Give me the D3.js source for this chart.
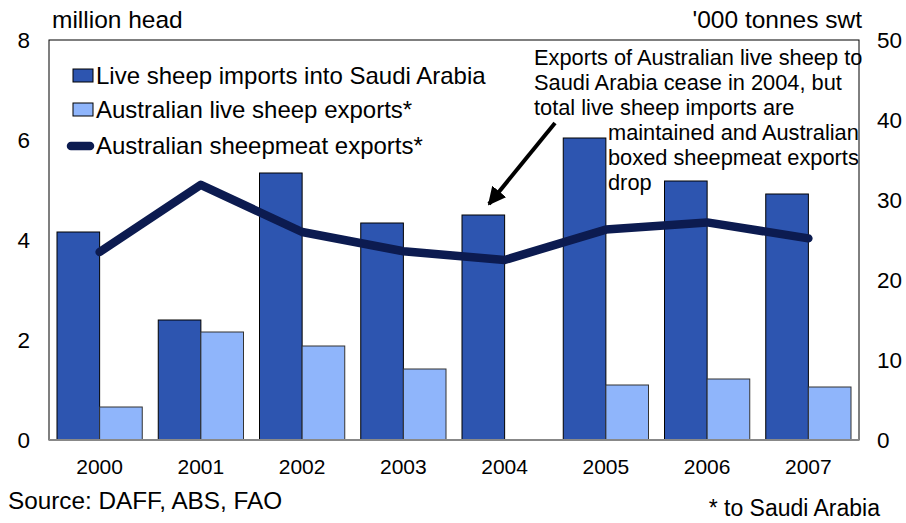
<!DOCTYPE html>
<html>
<head>
<meta charset="utf-8">
<script src="https://cdn.jsdelivr.net/npm/d3@7"></script>
<style>
  html, body { margin: 0; padding: 0; background: #fff; }
  svg { display: block; font-family: "Liberation Sans", Arial, sans-serif; }
</style>
</head>
<body>
<svg id="chart" width="906" height="523"></svg>
<script>
// Saudi Arabian live sheep imports vs Australian exports
const years = ["2000", "2001", "2002", "2003", "2004", "2005", "2006", "2007"];
// million head
const saudiImports = [4.16, 2.40, 5.34, 4.34, 4.50, 6.04, 5.18, 4.92];
const ausLiveExports = [0.66, 2.16, 1.88, 1.42, 0, 1.10, 1.22, 1.06];
// '000 tonnes shipped weight
const ausSheepmeat = [23.5, 31.9, 26.0, 23.6, 22.5, 26.3, 27.2, 25.2];
const leftTicks = [0, 2, 4, 6, 8];
const rightTicks = [0, 10, 20, 30, 40, 50];
const legendLabels = [
  "Live sheep imports into Saudi Arabia",
  "Australian live sheep exports*",
  "Australian sheepmeat exports*"
];
const noteLines = [
  "Exports of Australian live sheep to",
  "Saudi Arabia cease in 2004, but",
  "total live sheep imports are",
  "maintained and Australian",
  "boxed sheepmeat exports",
  "drop"
];

const C = { dark: "#2d55b0", light: "#8fb5fb", line: "#0c1b50" };
const plot = { left: 49, right: 859, top: 40, bottom: 440 };

const svg = d3.select("#chart");

const x = d3.scaleBand().domain(years).range([plot.left, plot.right]);
const inner = d3.scaleBand().domain(["imp", "exp"]).range([8, x.bandwidth() - 8]);
const yL = d3.scaleLinear().domain([0, 8]).range([plot.bottom, plot.top]);
const yR = d3.scaleLinear().domain([0, 50]).range([plot.bottom, plot.top]);

// frame
svg.append("rect")
  .attr("x", plot.left).attr("y", plot.top)
  .attr("width", plot.right - plot.left).attr("height", plot.bottom - plot.top)
  .attr("fill", "none").attr("stroke", "#000").attr("stroke-width", 1);

// bars
const groups = svg.append("g").selectAll("g").data(years).join("g")
  .attr("transform", d => `translate(${x(d)},0)`);
groups.append("rect")
  .attr("x", inner("imp")).attr("width", inner.bandwidth())
  .attr("y", (d, i) => yL(saudiImports[i]))
  .attr("height", (d, i) => yL(0) - yL(saudiImports[i]))
  .attr("fill", C.dark).attr("stroke", "#000").attr("stroke-width", 1);
groups.filter((d, i) => ausLiveExports[i] > 0).append("rect")
  .attr("x", inner("exp")).attr("width", inner.bandwidth())
  .attr("y", d => yL(ausLiveExports[years.indexOf(d)]))
  .attr("height", d => yL(0) - yL(ausLiveExports[years.indexOf(d)]))
  .attr("fill", C.light).attr("stroke", "#333").attr("stroke-width", 1);

// baseline
svg.append("line")
  .attr("x1", plot.left).attr("x2", plot.right)
  .attr("y1", plot.bottom).attr("y2", plot.bottom)
  .attr("stroke", "#888").attr("stroke-width", 2);

// sheepmeat line (right axis)
const line = d3.line()
  .x((d, i) => x(years[i]) + x.bandwidth() / 2)
  .y(d => yR(d));
svg.append("path").datum(ausSheepmeat)
  .attr("d", line)
  .attr("fill", "none").attr("stroke", C.line)
  .attr("stroke-width", 8.5).attr("stroke-linejoin", "round").attr("stroke-linecap", "round");

// axes labels
const axL = svg.append("g").attr("transform", `translate(${plot.left - 19},0)`)
  .call(d3.axisLeft(yL).tickValues(leftTicks).tickSize(0).tickPadding(0).tickFormat(d3.format("d")));
const axR = svg.append("g").attr("transform", `translate(${plot.right + 18},0)`)
  .call(d3.axisRight(yR).tickValues(rightTicks).tickSize(0).tickPadding(0).tickFormat(d3.format("d")));
const axB = svg.append("g").attr("transform", `translate(0,${plot.bottom + 19})`)
  .call(d3.axisBottom(x).tickSize(0).tickPadding(0));
[axL, axR].forEach(a => {
  a.select(".domain").remove();
  a.selectAll("text").attr("font-size", 22.5).attr("fill", "#000")
    .attr("font-family", "Liberation Sans, Arial, sans-serif");
});
axB.select(".domain").remove();
axB.selectAll("text").attr("font-size", 21).attr("fill", "#000")
  .attr("font-family", "Liberation Sans, Arial, sans-serif");

// unit labels
svg.append("text").attr("x", 52).attr("y", 28).attr("font-size", 24.5).text("million head");
svg.append("text").attr("x", 862).attr("y", 28).attr("font-size", 24.5)
  .attr("text-anchor", "end").text("'000 tonnes swt");

// legend
const lg = svg.append("g");
legendLabels.forEach((t, i) => {
  const cy = [76, 110, 146][i];
  if (i < 2) {
    lg.append("rect").attr("x", 73).attr("y", cy - 7).attr("width", 20).attr("height", 13)
      .attr("fill", i === 0 ? C.dark : C.light).attr("stroke", "#000").attr("stroke-width", 1);
  } else {
    lg.append("line").attr("x1", 71).attr("x2", 90).attr("y1", cy).attr("y2", cy)
      .attr("stroke", C.line).attr("stroke-width", 8.5).attr("stroke-linecap", "round");
  }
  lg.append("text").attr("x", 96).attr("y", cy + 8).attr("font-size", 24).text(t);
});

// annotation
const note = svg.append("g").attr("font-size", 21.8);
noteLines.forEach((t, i) => {
  note.append("text").attr("x", i < 3 ? 534 : 608).attr("y", 65 + i * 25).text(t);
});
svg.append("defs").append("marker")
  .attr("id", "arrowhead").attr("viewBox", "0 0 10 10")
  .attr("refX", 9).attr("refY", 5).attr("markerWidth", 4.5).attr("markerHeight", 4.5)
  .attr("orient", "auto-start-reverse")
  .append("path").attr("d", "M0,0 L10,5 L0,10 Z").attr("fill", "#000");
svg.append("line")
  .attr("x1", 555).attr("y1", 123).attr("x2", 489).attr("y2", 204)
  .attr("stroke", "#000").attr("stroke-width", 4)
  .attr("marker-end", "url(#arrowhead)");

// footnotes
svg.append("text").attr("x", 8).attr("y", 509).attr("font-size", 24.3).text("Source: DAFF, ABS, FAO");
svg.append("text").attr("x", 880).attr("y", 516).attr("font-size", 23)
  .attr("text-anchor", "end").text("* to Saudi Arabia");
</script>
</body>
</html>
